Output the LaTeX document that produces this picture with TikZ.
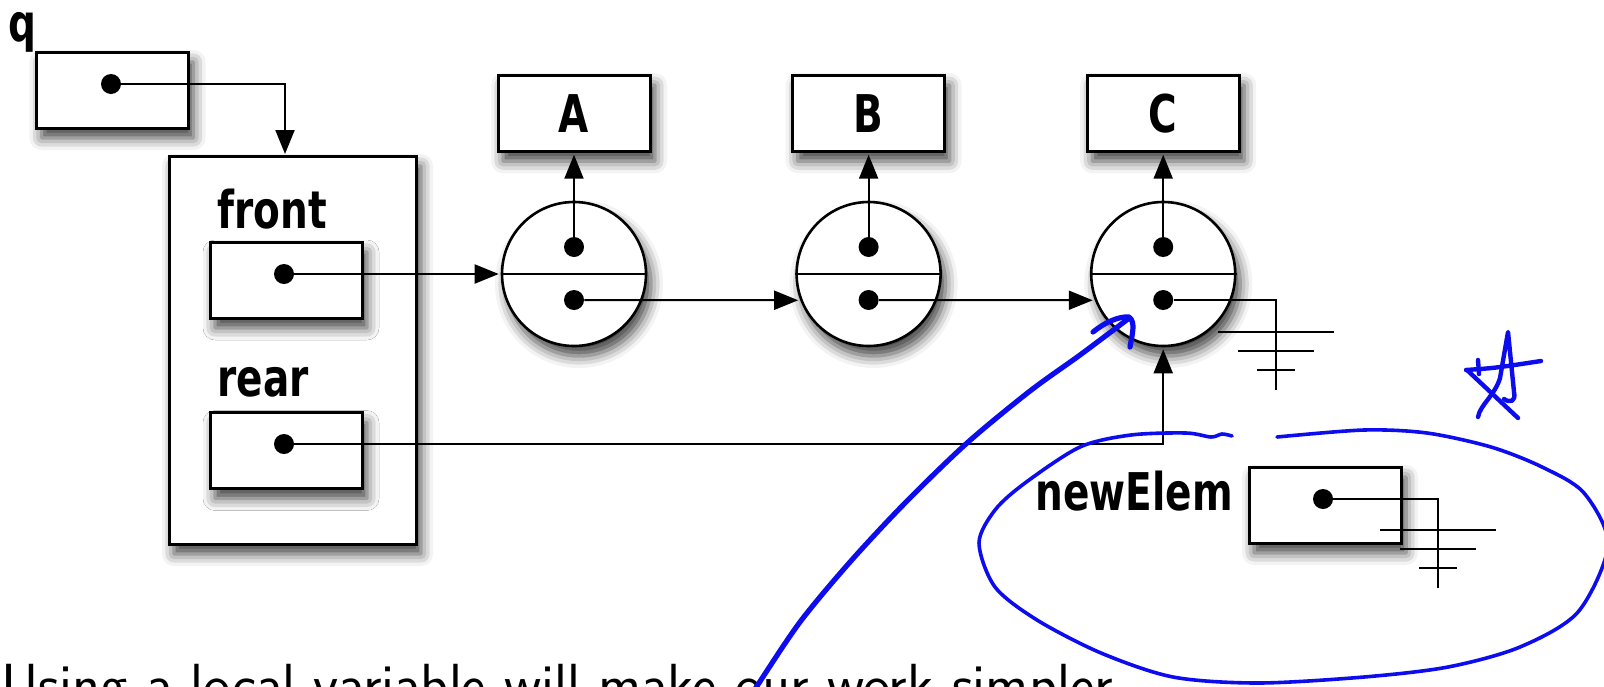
\documentclass[tikz,border=0pt]{standalone}
\usepackage{fontspec}
\newfontfamily\lblfont{DejaVu Sans}[FakeStretch=0.75]
\usetikzlibrary{arrows.meta}
\usetikzlibrary{positioning}
\usetikzlibrary{shadows.blur}
\definecolor{penblue}{RGB}{12, 12, 238}
\tikzset{
    wire/.style={line width=1pt},
    arrow/.style={wire, ->, >={Triangle[length=12pt, width=9.5pt]}, shorten >=1pt},
    shade/.style={blur shadow={shadow xshift=2.5pt, shadow yshift=-5pt,
      shadow blur radius=6pt, shadow opacity=75}},
    cell/.style = {
      draw,
      line width=1.5pt,
      fill=white,
      rectangle,
      minimum width=76pt,
      minimum height=38pt,
      inner sep=0pt,
      shade
    },
    holder/.style = {
      cell,
      minimum width=123.5pt,
      minimum height=194pt
    },
    listnode/.style = {
      draw,
      line width=1.3pt,
      fill=white,
      circle,
      minimum size=72pt,
      inner sep=0pt,
      shade
    },
    ptr/.style={circle, fill=black, minimum size=10pt, inner sep=0pt},
    lbl/.style={font=\lblfont\bfseries\fontsize{26pt}{26pt}\selectfont, inner sep=0pt},
    pen/.style={draw=penblue, line cap=round, line join=round},
}
\begin{document}
\begin{tikzpicture}[x=0.5pt, y=-0.5pt]
  \useasboundingbox (0,0) rectangle (1604,686);

  % the queue object
  \node[lbl, anchor=base] (qlabel) at (22,41) {q};
  \node[cell] (qbox) at (112.5,90) {};
  \node[holder] (queue) at (292.5,350) {};
  \node[lbl, anchor=base] (frontlabel) at (272,228) {front};
  \node[cell] (front) at (286,280) {};
  \node[lbl, anchor=base] (rearlabel) at (263,396) {rear};
  \node[cell] (rear) at (286,450.5) {};

  % list nodes and their values
  \node[listnode] (A) at (574,274) {};
  \node[listnode, right=74pt of A] (B) {};
  \node[listnode, right=74pt of B] (C) {};
  \foreach \n in {A,B,C} {
    \node[cell, lbl, minimum width=76pt, minimum height=38pt, above=24pt of \n] (val\n) {\n};
    \draw[wire] (\n.west) -- (\n.east);
    \node[ptr] (top\n) at ([yshift=13.5pt]\n.center) {};
    \node[ptr] (bot\n) at ([yshift=-13pt]\n.center) {};
    \draw[arrow] (top\n) -- (val\n.south);
  }

  % local variable
  \node[cell] (newElem) at (1325,505) {};
  \node[lbl, anchor=base] (newElemlabel) at (1134,510) {newElem};

  \node[ptr] (qdot) at (111,84) {};
  \node[ptr] (fdot) at (284,274) {};
  \node[ptr] (rdot) at (284,444) {};
  \node[ptr] (ndot) at (1323,499) {};
  \coordinate (qin) at (285,156);
  \coordinate (Cgnd) at (1276,390);
  \coordinate (Ngnd) at (1438,588);

  \draw[arrow] (qdot) -| (qin);
  \draw[arrow] (fdot) -- (A.west);
  \draw[arrow] (botA) -- (B.201);
  \draw[arrow] (botB) -- (C.201);
  \draw[arrow] (rdot) -| (C.south);
  \draw[wire] (botC) -| (Cgnd);
  \draw[wire] (ndot) -| (Ngnd);

  % null pointers
  \foreach \g in {Cgnd, Ngnd}
    \foreach \dy/\hw in {32/58, 51/38, 70/19}
      \draw[wire] ([shift={(-\hw,\dy-90)}]\g) -- ([shift={(\hw,\dy-90)}]\g);

  \node[anchor=base west, inner sep=0pt, font=\sffamily\fontsize{29pt}{29pt}\selectfont]
    (caption) at (1,704) {Using a local variable will make our work simpler};

  % pen notes
  \draw[pen, line width=2.6pt] plot[smooth] coordinates {(745,705) (757,686) (800,622)
    (850,562) (905,503) (967,443) (1030,391) (1080,355) (1128,319)};
  \draw[pen, line width=2.6pt] (1093,332) .. controls (1105,322) and (1120,316) .. (1129,317)
    .. controls (1136,322) and (1132,335) .. (1130,347);
  \draw[pen, line width=1.8pt] plot[smooth] coordinates {(1277,437) (1364,430) (1427,433)
    (1491,447) (1542,467) (1584,493) (1608,545) (1578,612) (1520,647) (1448,667) (1364,677)
    (1258,683) (1173,677) (1101,653) (1037,620) (995,587) (979,543) (995,510) (1025,483)
    (1080,447) (1131,435) (1186,433) (1211,437) (1222,434) (1232,436)};
  \draw[pen, line width=2.2pt] (1478,417) .. controls (1480,405) and (1495,395) .. (1500,378)
    -- (1508,332) -- (1514,392) .. controls (1516,402) and (1510,403) .. (1504,399);
  \draw[pen, line width=2.2pt] (1467,370) -- (1518,418);
  \draw[pen, line width=2.2pt] (1466,370) .. controls (1495,368) .. (1541,361);
  \draw[pen, line width=2.2pt] (1478,360) -- (1479,374);
\end{tikzpicture}
\end{document}
